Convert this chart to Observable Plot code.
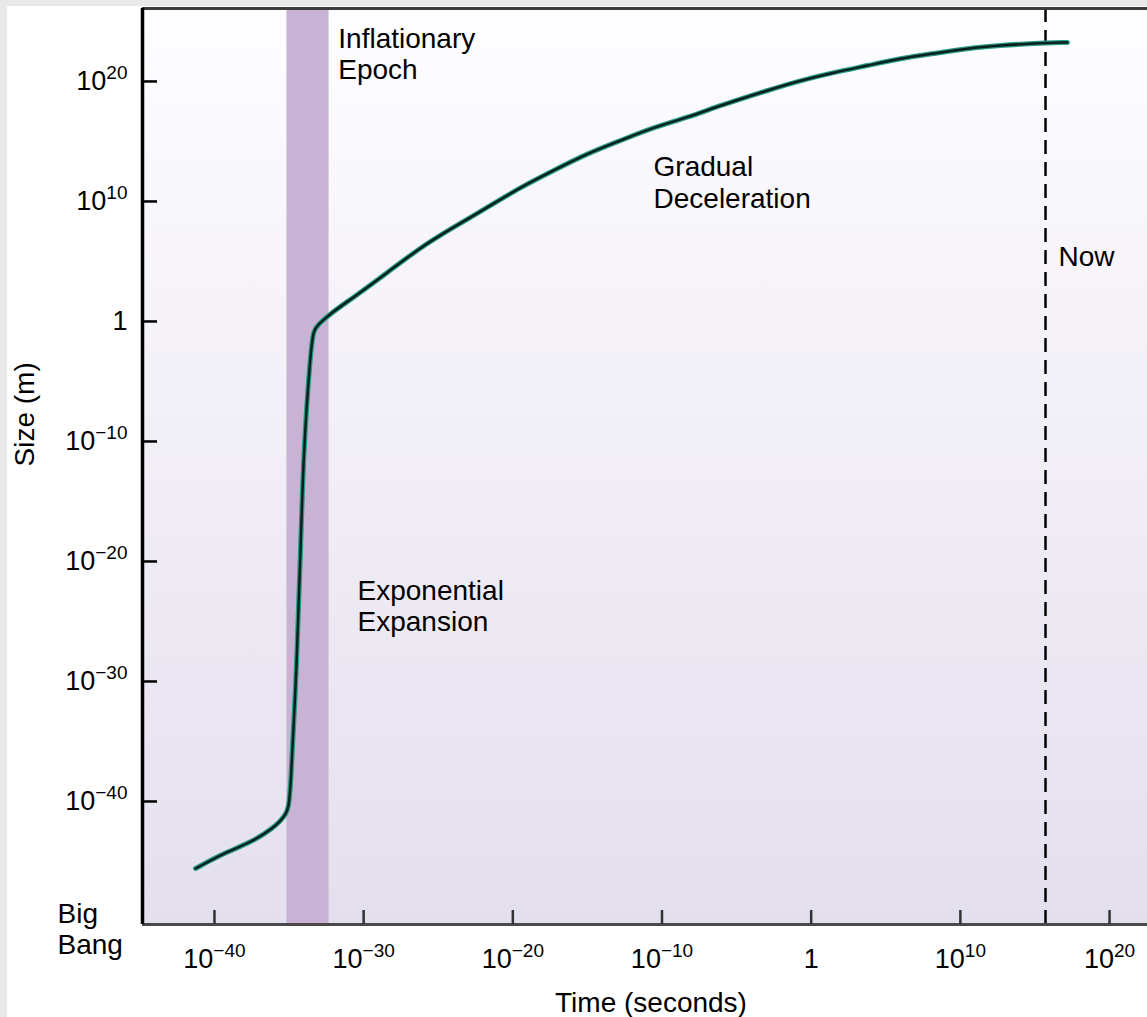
<!DOCTYPE html>
<html><head><meta charset="utf-8">
<script src="https://cdn.jsdelivr.net/npm/d3@7"></script>
<script src="https://cdn.jsdelivr.net/npm/@observablehq/plot@0.6"></script>
<style>
html,body{margin:0;padding:0;overflow:hidden;background:#e9e9e9;width:1147px;height:1017px;}
#chart{position:absolute;left:7px;top:6px;width:1140px;height:1011px;background:#fff;}
</style></head><body><div id="chart"></div>
<script>
// Curve: time (s) and size (m)
const timeSec = [5.4e-42, 4.0e-40, 2.6e-38, 9.1e-37, 7.8e-36, 1.2e-35, 3.6e-35, 5.9e-35, 9.3e-35, 2.8e-34, 4.4e-34, 7.9e-34,
  6.0e-33, 2.1e-31, 4.0e-29, 6.5e-27, 1.0e-24, 2.0e-22, 3.2e-20, 5.4e-18, 1.0e-15, 1.7e-13, 2.7e-11, 5.1e-9, 8.3e-7,
  1.2e-3, 0.19, 32, 6.0e3, 9.8e5, 1.6e8, 3.0e10, 4.9e12, 7.9e14, 1.5e17];
const sizeM = [2.6e-46, 4.7e-45, 3.8e-44, 5.6e-43, 1e-41, 1.2e-40, 3.8e-28, 7.9e-20, 1.8e-11, 3.8e-3, 0.18, 0.47,
  4.7, 100, 1.2e4, 1.5e6, 6.8e7, 3.2e9, 1.5e11, 3.8e12, 1e14, 1.2e15, 1.5e16, 1e17, 1e18,
  1.8e19, 1.2e20, 5.6e20, 2.1e21, 8.3e21, 2.1e22, 5.6e22, 1e23, 1.5e23, 1.8e23];

const xTicks = [1e-40, 1e-30, 1e-20, 1e-10, 1, 1e10, 1e20];
const xTickLabels = ["10^\u221240", "10^\u221230", "10^\u221220", "10^\u221210", "1", "10^10", "10^20"];
const yTicks = [1e-40, 1e-30, 1e-20, 1e-10, 1, 1e10, 1e20];
const yTickLabels = ["10^\u221240", "10^\u221230", "10^\u221220", "10^\u221210", "1", "10^10", "10^20"];

const inflationStart = [7.2e-36];
const inflationEnd = [4.8e-33];
const nowTime = [5.1e15];

const noteLabels = ["Inflationary\nEpoch", "Gradual\nDeceleration", "Now", "Exponential\nExpansion"];
const noteTimes = [2.0e-32, 2.7e-11, 3.8e16, 3.9e-31];
const noteSizes = [4.7e24, 1e14, 3.2e6, 4.7e-22];

const xDomain = [1.5e-45, 3.5e22];
const yDomain = [5.6e-51, 1.2e26];

const curve = timeSec.map((t, i) => ({t, s: sizeM[i]}));
const band = inflationStart.map((a, i) => ({a, b: inflationEnd[i]}));
const notes = noteLabels.map((label, i) => ({label, t: noteTimes[i], s: noteSizes[i]}));
const fmt = (ticks, labels) => d => labels[ticks.indexOf(d)];

const FONT = "'Liberation Sans', Arial, Helvetica, sans-serif";

const svg = Plot.plot({
  width: 1140, height: 1011,
  marginLeft: 135, marginRight: 0, marginTop: 2, marginBottom: 93,
  x: {type: "log", domain: xDomain, axis: null},
  y: {type: "log", domain: yDomain, axis: null},
  style: {fontFamily: FONT, fontSize: "27px", color: "#000", background: "#fff", overflow: "visible"},
  marks: [
    Plot.frame({fill: "url(#bgGrad)", stroke: "none"}),
    Plot.rect(band, {x1: "a", x2: "b", fill: "#c9b3d4"}),
    Plot.ruleX(nowTime, {stroke: "#000", strokeWidth: 2.5, strokeDasharray: "14,8"}),
    Plot.line(curve, {x: "t", y: "s", stroke: "#2a9a86", strokeWidth: 5, curve: "basis"}),
    Plot.line(curve, {x: "t", y: "s", stroke: "#08201b", strokeWidth: 2.5, curve: "basis"}),
    Plot.ruleY([yDomain[1]], {stroke: "#3c3c3c", strokeWidth: 3}),
    Plot.ruleY([yDomain[0]], {stroke: "#4a4a4a", strokeWidth: 3}),
    Plot.ruleX([xDomain[0]], {stroke: "#000", strokeWidth: 3.5}),
    Plot.axisX(xTicks, {tickFormat: fmt(xTicks, xTickLabels), tickSize: -14, tickPadding: 38, strokeWidth: 2.5, stroke: "#333", fill: "#000", label: null}),
    Plot.axisY(yTicks, {tickFormat: fmt(yTicks, yTickLabels), tickSize: -15, tickPadding: 30, strokeWidth: 2.5, stroke: "#000", fill: "#000", label: null}),
    Plot.text(notes, {x: "t", y: "s", text: "label", textAnchor: "start", lineAnchor: "top", fontSize: 28, lineHeight: 1.13, fill: "#000"}),
    Plot.text(["Big\nBang"], {frameAnchor: "bottom-left", dx: -85, dy: -23, textAnchor: "start", lineAnchor: "top", fontSize: 28, lineHeight: 1.1, fill: "#000"}),
    Plot.text(["Time (seconds)"], {frameAnchor: "bottom", dx: 6, dy: 68, lineAnchor: "top", fontSize: 28, fill: "#000"}),
    Plot.text(["Size (m)"], {frameAnchor: "left", dx: -117, rotate: -90, fontSize: 28, fill: "#000"})
  ]
});

d3.select(svg).insert("defs", ":first-child").html(
  '<linearGradient id="bgGrad" x1="0" y1="0" x2="0" y2="1">' +
  '<stop offset="0" stop-color="#fefdff"/><stop offset="0.5" stop-color="#f1eef6"/><stop offset="1" stop-color="#e4dfee"/></linearGradient>');

d3.select(svg).selectAll('g[aria-label="x-axis tick label"] text, g[aria-label="y-axis tick label"] text').each(function () {
  const s = this.textContent;
  const k = s.indexOf("^");
  if (k < 0) return;
  const t = d3.select(this);
  t.text(null);
  t.append("tspan").text(s.slice(0, k));
  t.append("tspan").attr("dy", "-11").attr("font-size", "19px").text(s.slice(k + 1));
});

document.getElementById("chart").appendChild(svg);
</script></body></html>
